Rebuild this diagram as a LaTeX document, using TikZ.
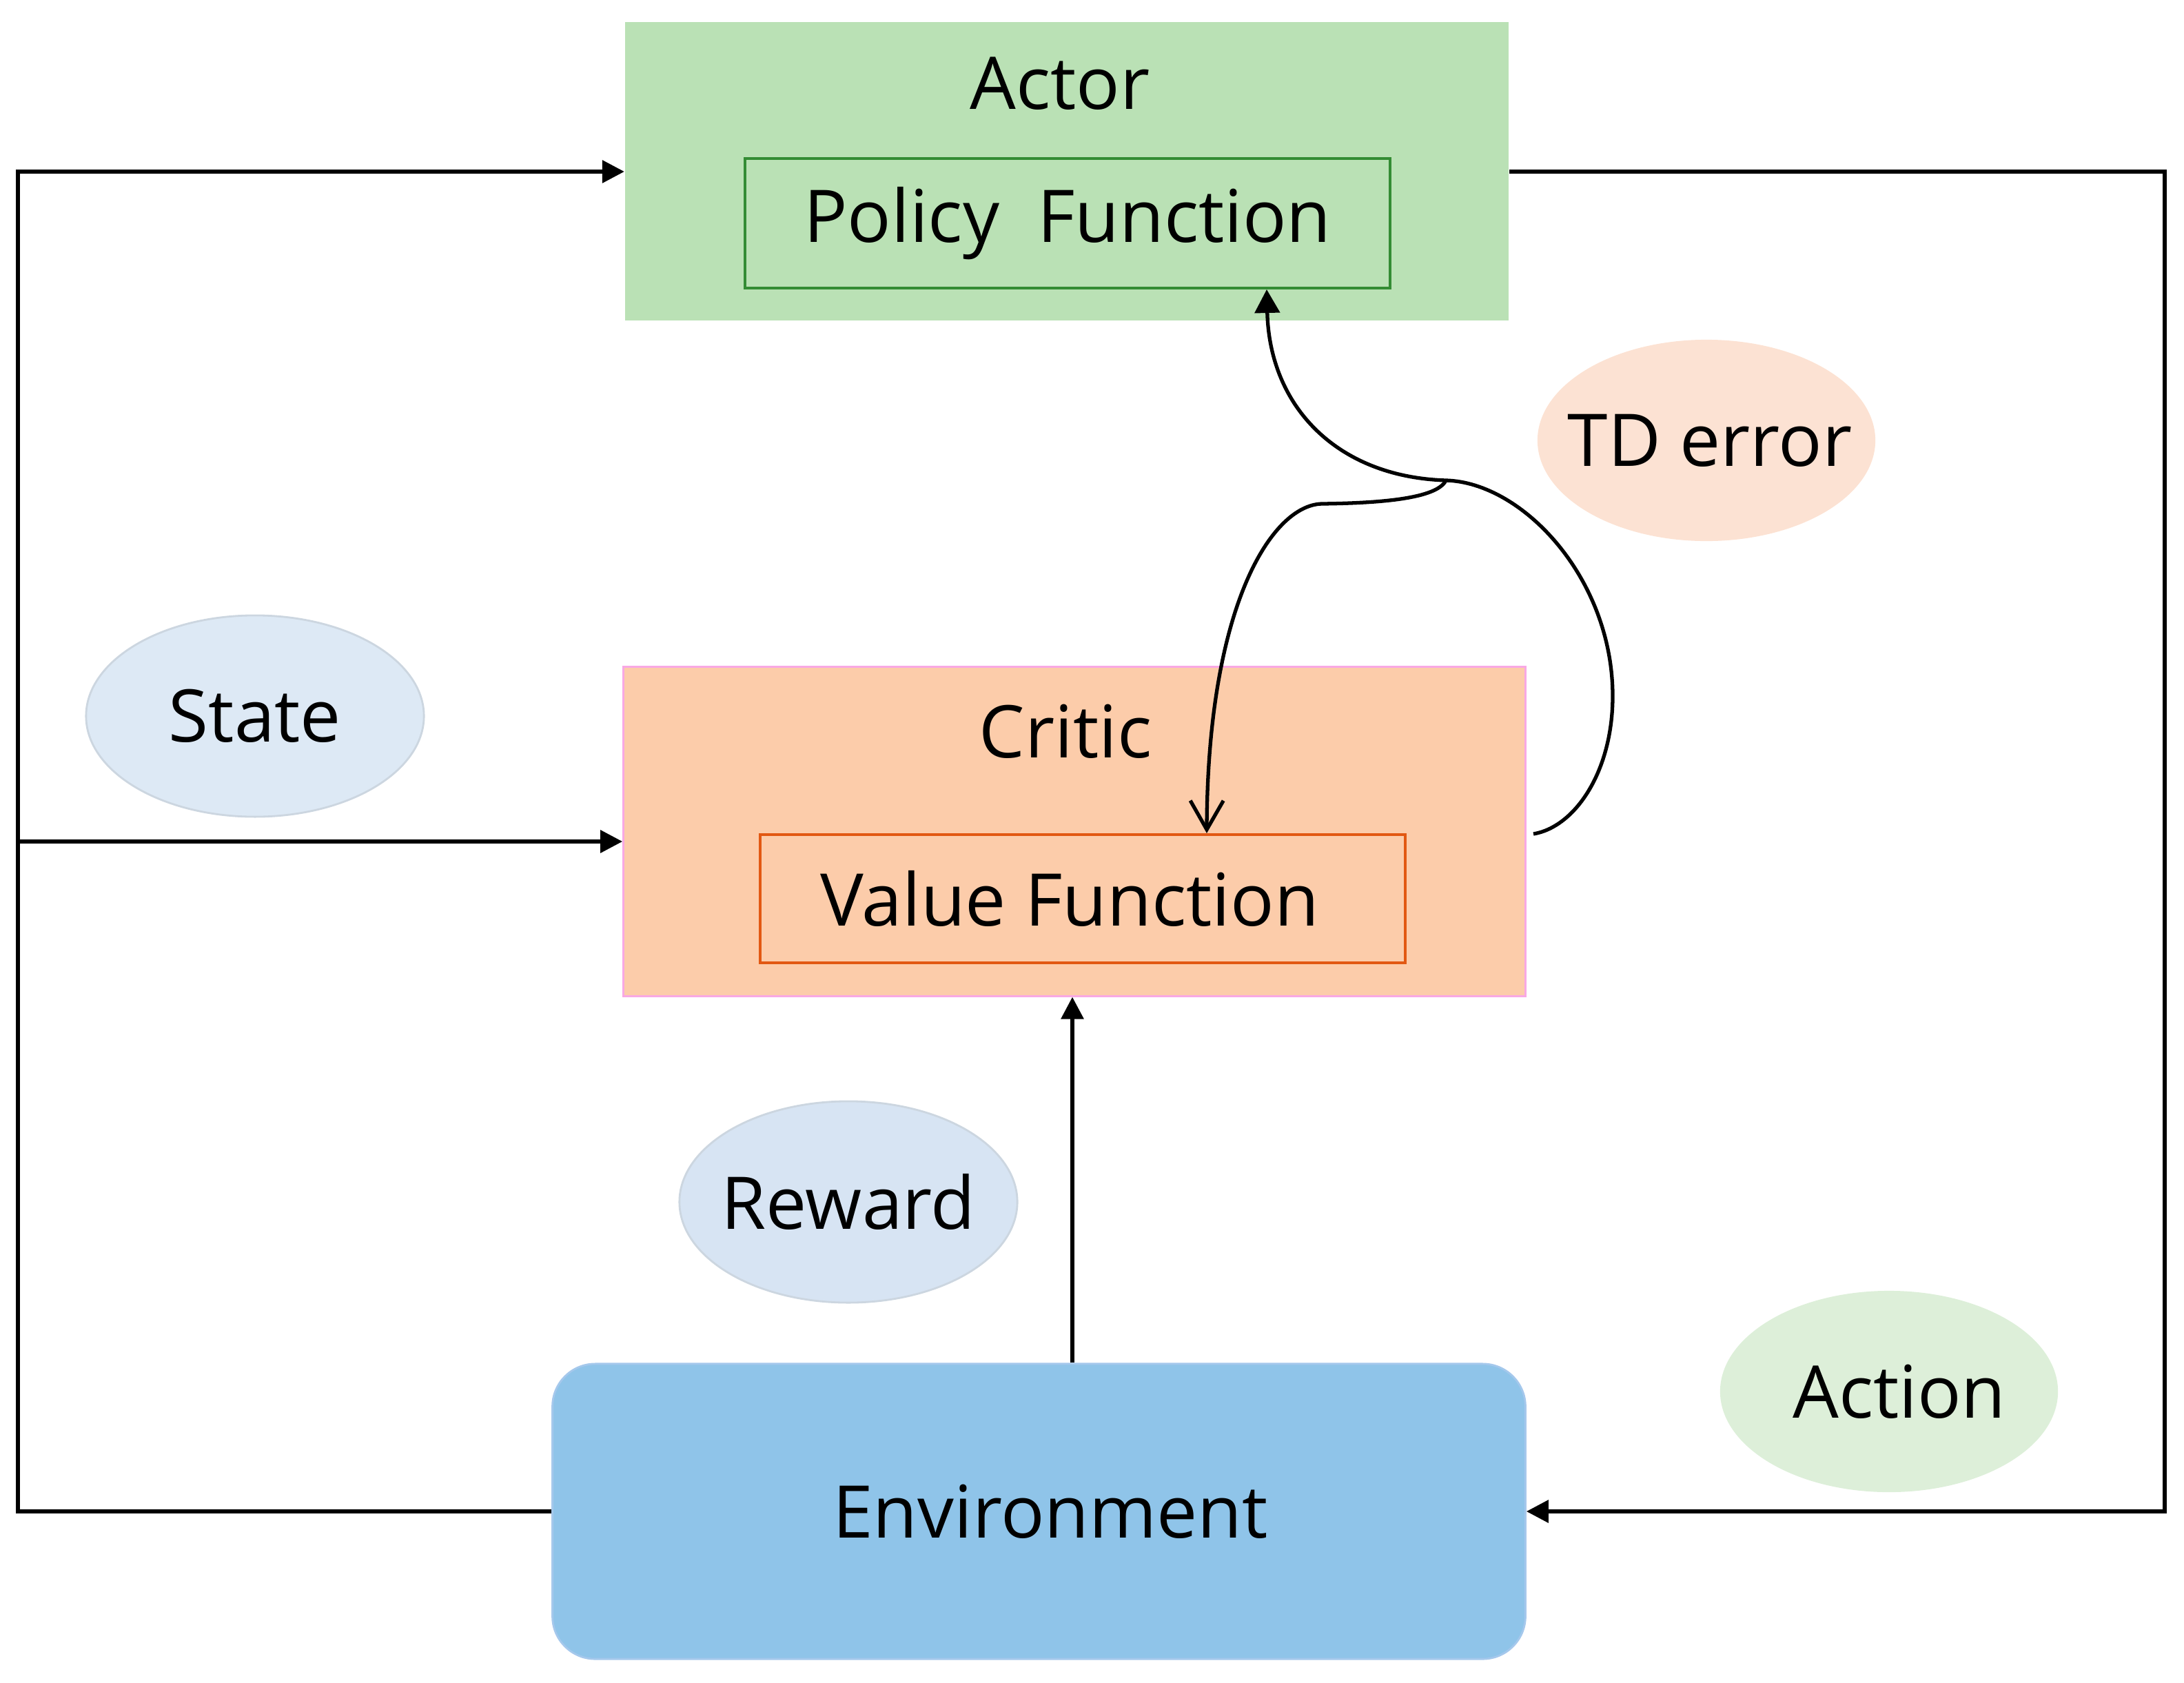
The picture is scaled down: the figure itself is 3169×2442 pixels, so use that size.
\documentclass[tikz,border=0pt]{standalone}
\usepackage{fontspec}
\setmainfont{Open Sans}
\usetikzlibrary{arrows.meta,shapes.geometric}
\definecolor{actorfill}{RGB}{186,225,181}
\definecolor{policyline}{RGB}{52,140,52}
\definecolor{criticfill}{RGB}{252,204,170}
\definecolor{criticline}{RGB}{248,168,228}
\definecolor{valueline}{RGB}{226,88,18}
\definecolor{envfill}{RGB}{143,196,233}
\definecolor{envline}{RGB}{165,200,236}
\definecolor{tdfill}{RGB}{252,226,211}
\definecolor{statefill}{RGB}{221,233,245}
\definecolor{stateline}{RGB}{204,214,224}
\definecolor{rewardfill}{RGB}{215,228,243}
\definecolor{actionfill}{RGB}{221,239,217}
\tikzset{
  txt/.style={font=\fontsize{30}{36}\selectfont, inner sep=0pt},
  bigbox/.style={rectangle, inner sep=0pt},
  bubble/.style={ellipse, minimum width=4.9cm, minimum height=2.92cm, inner sep=0pt, font=\fontsize{30}{36}\selectfont},
  loopline/.style={line width=1.7pt, -{Triangle[length=0.32cm,width=0.32cm]}},
  curveline/.style={line width=1.5pt}
}
\newcommand{\zw}[1]{\makebox[0pt][c]{#1}}
\begin{document}
\begin{tikzpicture}[x=0.01cm,y=-0.01cm]
\useasboundingbox (0,0) rectangle (3169,2442);
% boxes
\node[bigbox, fill=actorfill, minimum width=12.82cm, minimum height=4.33cm] (actor) at (1548,248.5) {};
\node[txt] (actorlbl) at (1538,121) {Actor};
\node[bigbox, draw=policyline, line width=1.2pt, minimum width=9.36cm, minimum height=1.88cm, font=\fontsize{30}{36}\selectfont] (policy) at (1549,324) {Policy\ \ Function};
\node[bigbox, fill=criticfill, draw=criticline, line width=0.8pt, minimum width=13.08cm, minimum height=4.77cm] (critic) at (1559,1206.5) {};
\node[txt] (criticlbl) at (1546,1061) {Critic};
\node[bigbox, draw=valueline, line width=1.2pt, minimum width=9.36cm, minimum height=1.86cm, font=\fontsize{30}{36}\selectfont] (value) at (1571,1304) {\hspace*{-0.38cm}Value Function};
\node[bigbox, fill=envfill, draw=envline, line width=0.8pt, rounded corners=0.62cm, minimum width=14.11cm, minimum height=4.28cm, font=\fontsize{30}{36}\selectfont] (env) at (1507.5,2193) {\hspace*{0.33cm}Environment};
% ellipses
\node[bubble, fill=statefill, draw=stateline, line width=0.8pt] (state) at (370,1039) {\zw{State}};
\node[bubble, fill=rewardfill, draw=stateline, line width=0.8pt] (reward) at (1231,1744) {\zw{Reward}};
\node[bubble, fill=tdfill] (td) at (2476,639) {\zw{\hspace*{0.1cm}TD error}};
\node[bubble, fill=actionfill] (action) at (2741,2019) {\zw{\hspace*{0.3cm}Action}};
% loop connectors
\coordinate (lt) at (26,249);
\coordinate (lb) at (26,2193);
\coordinate (lm) at (26,1221);
\coordinate (rt) at (3141,249);
\coordinate (rb) at (3141,2193);
\draw[loopline] (env.west |- lb) -- (lb) -- (lt) -- (actor.west |- lt);
\draw[loopline] (lm) -- (critic.west |- lm);
\draw[loopline] (actor.east |- rt) -- (rt) -- (rb) -- (env.east |- rb);
\draw[loopline] (env.north -| 1556,0) -- (critic.south -| 1556,0);
% TD error curves
\coordinate (cr) at (2225,1210);
\coordinate (junc) at (2098,697);
\coordinate (arcR) at (2340,1010);
\coordinate (hook) at (1918,731);
\coordinate (ptip) at (1838,420);
\coordinate (vtip) at (1751,1209);
\draw[curveline, -{Triangle[length=0.34cm,width=0.36cm]}]
  (cr) .. controls (2285,1200) and (2340,1120) .. (arcR)
       .. controls (2340,840) and (2210,700) .. (junc)
       .. controls (1940,692) and (1842,590) .. (ptip);
\draw[curveline, -{Straight Barb[length=0.42cm,width=0.48cm,line width=1.5pt]}]
  (junc) .. controls (2085,724) and (2000,730) .. (hook)
         .. controls (1845,733) and (1752,880) .. (vtip);
\end{tikzpicture}
\end{document}
